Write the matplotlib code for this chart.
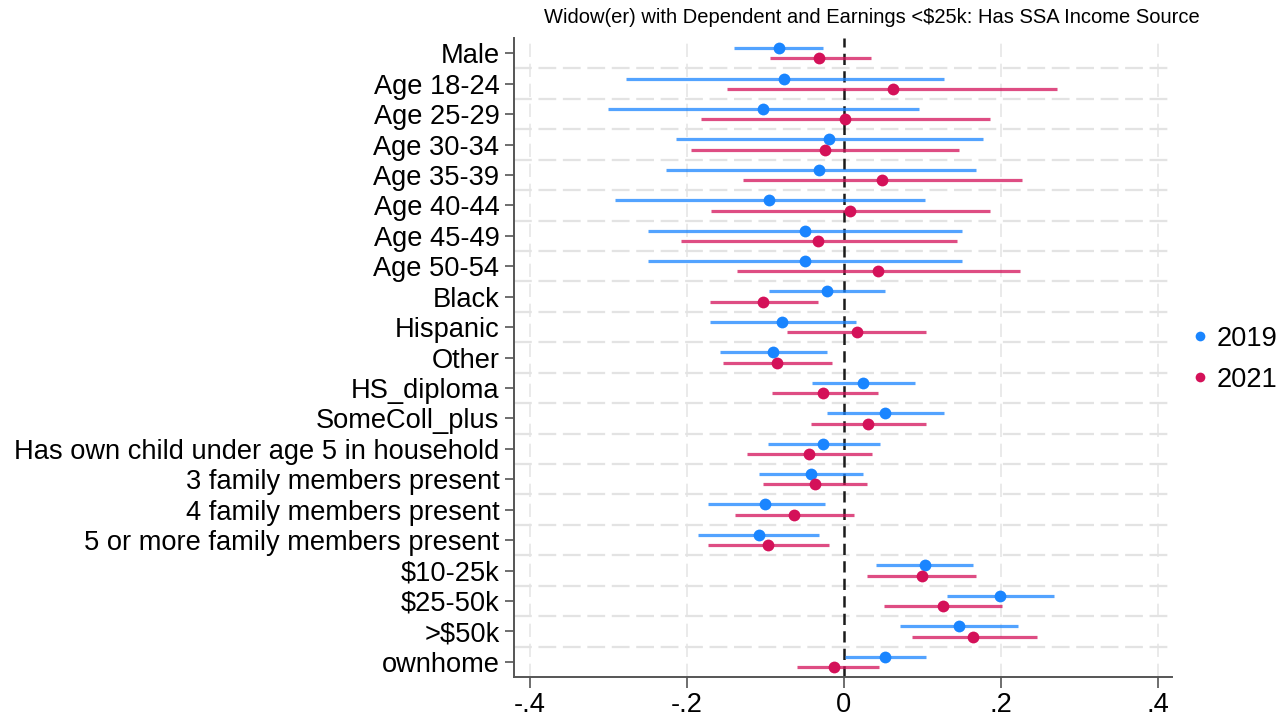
import matplotlib
matplotlib.use("Agg")
import matplotlib.pyplot as plt
import numpy as np
from matplotlib.lines import Line2D

plt.rcParams['font.family'] = ['Liberation Sans', 'DejaVu Sans']

categories = ["Male", "Age 18-24", "Age 25-29", "Age 30-34", "Age 35-39", "Age 40-44",
              "Age 45-49", "Age 50-54", "Black", "Hispanic", "Other", "HS_diploma",
              "SomeColl_plus", "Has own child under age 5 in household",
              "3 family members present", "4 family members present",
              "5 or more family members present", "$10-25k", "$25-50k", ">$50k", "ownhome"]

est_2019 = [-0.083, -0.076, -0.103, -0.019, -0.031, -0.095, -0.050, -0.050, -0.022, -0.079,
            -0.090, 0.024, 0.053, -0.026, -0.042, -0.100, -0.108, 0.103, 0.199, 0.147, 0.053]
lo_2019 = [-0.140, -0.278, -0.300, -0.214, -0.227, -0.291, -0.249, -0.250, -0.095, -0.171,
           -0.158, -0.041, -0.021, -0.097, -0.108, -0.173, -0.186, 0.041, 0.131, 0.072, 0.001]
hi_2019 = [-0.027, 0.127, 0.096, 0.177, 0.168, 0.103, 0.151, 0.151, 0.053, 0.015,
           -0.022, 0.091, 0.127, 0.046, 0.024, -0.024, -0.032, 0.165, 0.268, 0.222, 0.105]

est_2021 = [-0.031, 0.062, 0.001, -0.024, 0.049, 0.008, -0.033, 0.044, -0.103, 0.017,
            -0.085, -0.026, 0.031, -0.044, -0.037, -0.064, -0.096, 0.099, 0.126, 0.165, -0.012]
lo_2021 = [-0.094, -0.149, -0.182, -0.194, -0.128, -0.169, -0.208, -0.136, -0.171, -0.072,
           -0.154, -0.092, -0.042, -0.123, -0.103, -0.138, -0.173, 0.029, 0.051, 0.087, -0.060]
hi_2021 = [0.035, 0.272, 0.186, 0.147, 0.227, 0.186, 0.144, 0.224, -0.033, 0.105,
           -0.015, 0.044, 0.105, 0.036, 0.029, 0.013, -0.019, 0.168, 0.201, 0.246, 0.045]

series = ["2019", "2021"]
colors = ["#1A85FF", "#D41159"]
xticks = [-0.4, -0.2, 0.0, 0.2, 0.4]
xticklabels = ["-.4", "-.2", "0", ".2", ".4"]
title = "Widow(er) with Dependent and Earnings <$25k: Has SSA Income Source"

fig = plt.figure(figsize=(12.87, 7.19), dpi=100)
ax = fig.add_axes([0.3994, 0.0584, 0.5113, 0.8887])

pos = np.arange(1, len(categories) + 1)
offs = [-0.17, 0.17]
data = [(est_2019, lo_2019, hi_2019), (est_2021, lo_2021, hi_2021)]

# grid
for x in xticks:
    if x != 0:
        ax.axvline(x, color="#e6e6e6", lw=1.2, ls=(0, (8, 4)), zorder=0)
for y in pos[:-1] + 0.5:
    ax.axhline(y, color="#e3e3e3", lw=1.6, ls=(0, (8, 3)), zorder=0)

ax.axvline(0, color="#1a1a1a", lw=1.8, ls=(0, (4.5, 2.5)), zorder=1)

for (est, lo, hi), off, c in zip(data, offs, colors):
    y = pos + off
    ax.hlines(y, lo, hi, color=c, lw=2.3, alpha=0.75, zorder=2)
    ax.plot(est, y, 'o', color=c, ms=8.5, zorder=3, mec='none')

ax.set_xlim(-0.420, 0.418)
ax.set_ylim(21.5, 0.5)
ax.set_yticks(pos)
ax.set_yticklabels(categories, fontsize=19.6)
ax.set_xticks(xticks)
ax.set_xticklabels(xticklabels, fontsize=19.6)
ax.tick_params(axis='y', length=6.5, width=1.2, color="#555555", pad=4)
ax.tick_params(axis='x', length=8, width=1.2, color="#555555", pad=3)
for s in ["top", "right"]:
    ax.spines[s].set_visible(False)
for s in ["left", "bottom"]:
    ax.spines[s].set_color("#555555")
    ax.spines[s].set_linewidth(1.4)

fig.text(0.6775, 0.975, title, fontsize=14.5, ha='center', va='center')

handles = [Line2D([], [], ls='none', marker='o', color=c, ms=7, mec='none') for c in colors]
fig.legend(handles, series, loc='center left', bbox_to_anchor=(0.924, 0.5),
           frameon=False, fontsize=19.6, handletextpad=0.2, labelspacing=0.55,
           handlelength=0.8, borderaxespad=0, borderpad=0)

fig.savefig("out.png", dpi=100)
